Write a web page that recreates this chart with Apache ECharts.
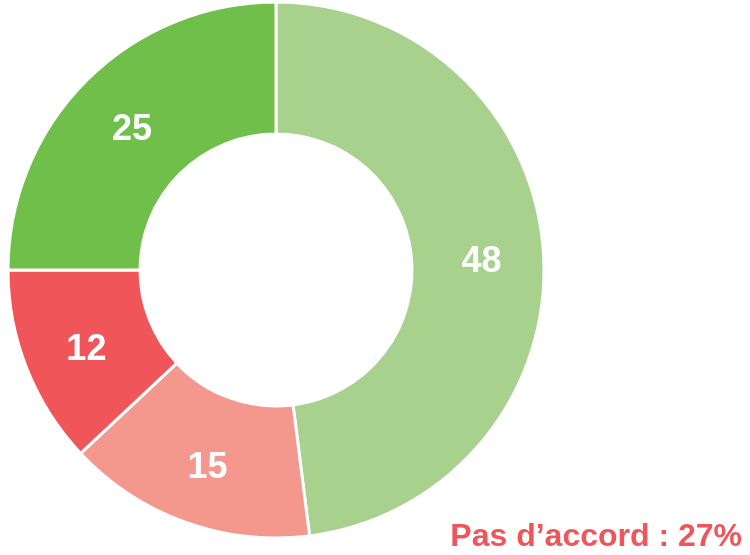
<!DOCTYPE html>
<html>
<head>
<meta charset="utf-8">
<script src="https://cdn.jsdelivr.net/npm/echarts@6/dist/echarts.min.js"></script>
<style>
  html, body { margin: 0; padding: 0; background: #fff; }
  #myChart { width: 750px; height: 555px; }
</style>
</head>
<body>
<div id="myChart"></div>
<script type="text/javascript">
var sliceNames = ['A', 'B', 'C', 'D']
var sliceValues = [48, 15, 12, 25]
var sliceColors = ['#a9d18e', '#f4988e', '#f0555a', '#70bf4b']
var noteText = 'Pas d\u2019accord : 27%'

var dataarray = []
for (var i = 0; i < sliceValues.length; i++) {
  dataarray.push({ value: sliceValues[i], name: sliceNames[i], itemStyle: { color: sliceColors[i] } })
}

var myChart = echarts.init(document.getElementById('myChart'))
myChart.setOption({
  animation: false,
  graphic: [{
    type: 'text',
    right: 8,
    bottom: 2,
    style: {
      text: noteText,
      fill: '#f0555a',
      font: 'bold 32px "Liberation Sans", Arial, sans-serif'
    }
  }],
  series: [{
    type: 'pie',
    center: [276, 270],
    radius: [136, 268],
    startAngle: 90,
    clockwise: true,
    itemStyle: { borderColor: '#fff', borderWidth: 3 },
    label: {
      position: 'inside',
      formatter: '{c}',
      color: '#fff',
      fontSize: 36,
      fontWeight: 'bold',
      fontFamily: '"Liberation Sans", Arial, sans-serif',
      offset: [1, 5]
    },
    labelLine: { show: false },
    emphasis: { disabled: true },
    data: dataarray
  }]
})
</script>
</body>
</html>
